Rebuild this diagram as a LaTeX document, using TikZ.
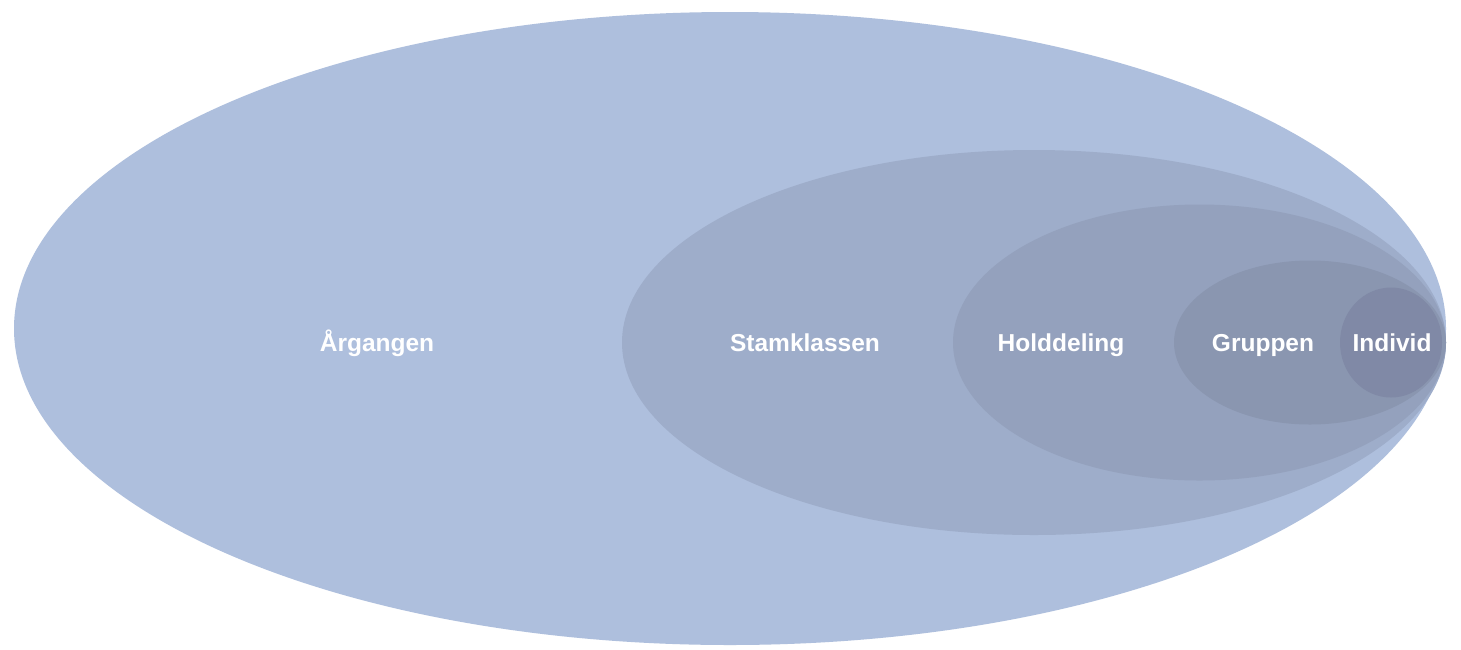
\documentclass[tikz,border=0pt]{standalone}
\usepackage{fontspec}
\setmainfont{Liberation Sans}
\definecolor{cA}{HTML}{AEBFDD}
\definecolor{cB}{HTML}{9EADCA}
\definecolor{cC}{HTML}{94A1BD}
\definecolor{cD}{HTML}{8A96B0}
\definecolor{cE}{HTML}{8089A6}
\tikzset{
  lbl/.style={text=white, font=\fontsize{24.5}{28}\selectfont\bfseries, anchor=base, inner sep=0pt},
}
\begin{document}
\begin{tikzpicture}[x=1pt,y=-1pt]
\useasboundingbox (0,0) rectangle (1461,649);
\fill[white] (0,0) rectangle (1461,649);
\fill[cA] (730,328.5) ellipse [x radius=716, y radius=316.5];
\fill[cB] (1034,342.5) ellipse [x radius=412, y radius=192.5];
\fill[cC] (1199.5,342.5) ellipse [x radius=246.5, y radius=138];
\fill[cD] (1310,342.5) ellipse [x radius=136, y radius=82];
\fill[cE] (1391,342.5) ellipse [x radius=51, y radius=55];
\node[lbl] (arg) at (377,351) {Årgangen};
\node[lbl] (stam) at (805,351) {Stamklassen};
\node[lbl] (hold) at (1061,351) {Holddeling};
\node[lbl] (grp) at (1263,351) {Gruppen};
\node[lbl] (ind) at (1392,351) {Individ};
\end{tikzpicture}
\end{document}
